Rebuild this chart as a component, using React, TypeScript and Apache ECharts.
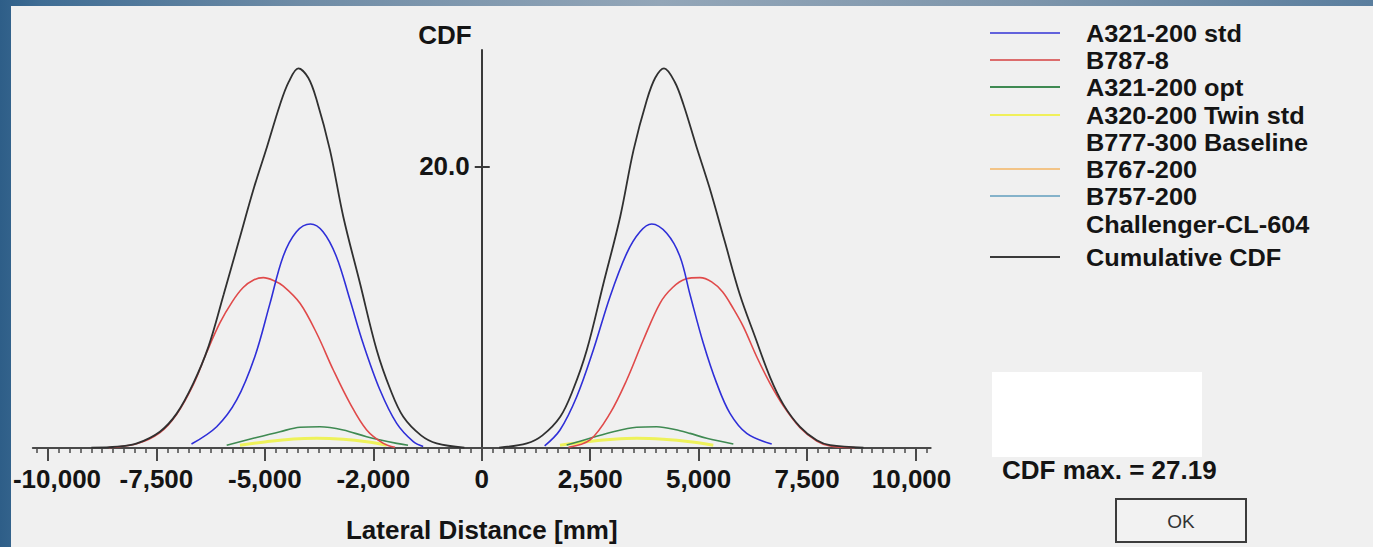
import React, { useEffect, useRef } from "react";
import * as echarts from "echarts";

// ---------- data (lateral distance in mm, CDF value) ----------
type P = [number, number];

const xTickValues = [-10000, -7500, -5000, -2500, 0, 2500, 5000, 7500, 10000];
const xTickLabels = ["-10,000", "-7,500", "-5,000", "-2,000", "0", "2,500", "5,000", "7,500", "10,000"];
const yTickValues = [20];
const yTickLabels = ["20.0"];
const xAxisTitle = "Lateral Distance [mm]";
const yAxisTitle = "CDF";
const cdfMax = 27.19;
const buttonLabel = "OK";

const legendNames = [
  "A321-200 std",
  "B787-8",
  "A321-200 opt",
  "A320-200 Twin std",
  "B777-300 Baseline",
  "B767-200",
  "B757-200",
  "Challenger-CL-604",
  "Cumulative CDF",
];
const legendColors: (string | null)[] = [
  "#6262dc", "#dc6c6c", "#3f8a52", "#f0f05a", null, "#f3c487", "#84b2ca", null, "#3a3a3a",
];

const a321StdLeft: P[] = [
  [-6692, 0.28], [-6111, 1.51], [-5650, 3.41], [-5230, 6.5], [-4888, 10.2], [-4581, 13.59],
  [-4272, 15.36], [-3950, 15.91], [-3659, 15.36], [-3350, 13.59], [-3037, 10.51], [-2736, 7.44],
  [-2346, 4.12], [-1961, 1.75], [-1578, 0.45], [-1350, 0.1],
];
const a321StdRight: P[] = [
  [1450, 0.15], [1804, 1.28], [2189, 3.64], [2572, 6.96], [2957, 10.75], [3342, 13.83],
  [3648, 15.36], [3918, 15.91], [4264, 15.25], [4571, 13.59], [4801, 10.9], [5108, 7.44],
  [5417, 4.59], [5723, 2.46], [6108, 1.04], [6685, 0.28],
];
const b787Left: P[] = [
  [-8600, 0.03], [-7955, 0.3], [-7418, 1.1], [-7033, 2.4], [-6650, 4.5], [-6341, 6.8],
  [-6034, 8.9], [-5750, 10.4], [-5500, 11.4], [-5250, 11.95], [-5036, 12.1], [-4800, 11.9],
  [-4575, 11.5], [-4190, 10.28], [-3806, 8.15], [-3422, 5.54], [-3037, 3.17], [-2653, 1.28],
  [-2269, 0.33], [-2000, 0.05],
];
const b787Right: P[] = [
  [2000, 0.05], [2496, 0.57], [2957, 2.46], [3342, 4.83], [3725, 7.67], [4109, 10.28],
  [4400, 11.4], [4700, 12.0], [5032, 12.1], [5300, 11.8], [5550, 11.1], [5800, 9.9],
  [6030, 8.62], [6339, 6.48], [6645, 4.59], [6952, 3.0], [7337, 1.45], [7722, 0.5],
  [8029, 0.15], [8600, 0.03],
];
const a321OptLeft: P[] = [
  [-5880, 0.2], [-5267, 0.69], [-4651, 1.16], [-4190, 1.47], [-3729, 1.51], [-3192, 1.28],
  [-2653, 0.8], [-1961, 0.33], [-1700, 0.2],
];
const a321OptRight: P[] = [
  [1958, 0.21], [2496, 0.69], [3033, 1.16], [3572, 1.47], [4033, 1.51], [4571, 1.23],
  [4801, 1.04], [5186, 0.69], [5800, 0.28],
];
const a320TwinLeft: P[] = [
  [-5574, 0.2], [-4963, 0.45], [-4344, 0.64], [-3806, 0.69], [-3192, 0.62], [-2653, 0.45], [-2191, 0.2],
];
const a320TwinRight: P[] = [
  [1804, 0.2], [2419, 0.45], [3033, 0.62], [3572, 0.69], [4186, 0.62], [4801, 0.45], [5338, 0.2],
];
const cumulativeLeft: P[] = [
  [-9000, 0.03], [-8400, 0.1], [-7950, 0.33], [-7420, 1.16], [-7030, 2.46], [-6650, 4.59],
  [-6300, 7.2], [-5950, 10.9], [-5600, 14.7], [-5250, 18.5], [-4950, 21.4], [-4650, 24.4],
  [-4450, 26.0], [-4229, 26.97], [-4000, 26.3], [-3806, 24.72], [-3499, 21.16], [-3192, 16.43],
  [-2807, 11.7], [-2422, 6.96], [-2100, 4.1], [-1809, 2.22], [-1400, 0.9], [-1039, 0.33], [-400, 0.03],
];
const cumulativeRight: P[] = [
  [400, 0.03], [1039, 0.33], [1400, 0.9], [1809, 2.22], [2100, 4.1], [2422, 6.96], [2807, 11.7],
  [3192, 16.43], [3499, 21.16], [3806, 24.72], [4000, 26.3], [4202, 26.97], [4450, 26.0],
  [4650, 24.4], [4950, 21.4], [5250, 18.5], [5600, 14.7], [5950, 10.9], [6300, 7.9], [6650, 5.0],
  [6952, 3.1], [7337, 1.5], [7722, 0.55], [8030, 0.2], [8800, 0.03],
];

// ---------- layout ----------
const OX = 11; // chart div offset inside the page
const OY = 6;
const FONT = '"Liberation Sans", Arial, sans-serif';
const TEXT = "#141414";
const legendRowY = [34, 61, 88, 116, 143, 170, 197, 225, 258];
const GRID_LEFT = 32.8; // page px of x = -10350
const ZERO_X = 481.75; // page px of x = 0

export default function App() {
  const ref = useRef<HTMLDivElement>(null);

  useEffect(() => {
    if (!ref.current) return;
    const chart = echarts.init(ref.current, undefined, { renderer: "svg" });

    const minorTicks: number[] = [];
    for (let v = -10250; v <= 10250; v += 250) minorTicks.push(v);

    const line = (name: string, data: P[], color: string, width: number) => ({
      type: "line",
      name,
      data,
      xAxisIndex: 0,
      yAxisIndex: 0,
      showSymbol: false,
      smooth: 0.35,
      lineStyle: { color, width },
      itemStyle: { color },
      z: 3,
    });

    const legendGraphics: any[] = [];
    legendNames.forEach((n, i) => {
      const y = legendRowY[i] - OY;
      const c = legendColors[i];
      if (c) {
        legendGraphics.push({
          type: "line",
          shape: { x1: 990 - OX, y1: y - 1, x2: 1060 - OX, y2: y - 1 },
          style: { stroke: c, lineWidth: 2 },
        });
      }
      legendGraphics.push({
        type: "text",
        x: 1086 - OX,
        y,
        scaleX: 1.1,
        style: {
          text: n,
          font: `bold 23px ${FONT}`,
          lineHeight: 22,
          fill: TEXT,
          verticalAlign: "middle",
        },
      });
    });

    const yOffset = -(ZERO_X - GRID_LEFT);
    const labelText = { fontFamily: FONT, fontWeight: "bold", fontSize: 26, color: TEXT };

    const option: any = {
      animation: false,
      backgroundColor: "#f0f0f0",
      grid: {
        left: GRID_LEFT - OX,
        top: 50 - OY,
        width: 897.9,
        height: 398,
        containLabel: false,
        outerBoundsMode: "none",
      },
      xAxis: [
        {
          type: "value",
          min: -10350,
          max: 10350,
          position: "bottom",
          name: xAxisTitle,
          nameLocation: "middle",
          nameGap: 69,
          nameTextStyle: { ...labelText },
          axisLine: { onZero: true, lineStyle: { color: "#4a4a4a", width: 2 } },
          axisTick: { show: true, customValues: xTickValues, length: 13, lineStyle: { color: "#4a4a4a", width: 2 } },
          axisLabel: {
            customValues: xTickValues,
            margin: 18,
            ...labelText,
            rich: {
              first: { ...labelText, padding: [0, 0, 0, 18] },
              last: { ...labelText, padding: [0, 8, 0, 0] },
            },
            formatter: (v: number) => {
              const i = xTickValues.indexOf(v);
              if (i < 0) return "";
              if (i === 0) return `{first|${xTickLabels[i]}}`;
              if (i === xTickValues.length - 1) return `{last|${xTickLabels[i]}}`;
              return xTickLabels[i];
            },
          },
          splitLine: { show: false },
        },
        {
          type: "value",
          min: -10350,
          max: 10350,
          position: "bottom",
          axisLine: { show: false },
          axisTick: { show: true, customValues: minorTicks, length: 5, lineStyle: { color: "#4a4a4a", width: 1.5 } },
          axisLabel: { show: false },
          splitLine: { show: false },
        },
      ],
      yAxis: [
        {
          type: "value",
          min: 0,
          max: 28.27,
          position: "left",
          offset: yOffset,
          name: yAxisTitle,
          nameLocation: "end",
          nameGap: 2,
          nameTextStyle: {
            ...labelText,
            align: "right",
            verticalAlign: "bottom",
            padding: [0, 10, 0, 0],
          },
          axisLine: { show: true, onZero: false, lineStyle: { color: "#3a3a3a", width: 2 } },
          axisTick: { show: true, customValues: yTickValues, length: 7, lineStyle: { color: "#3a3a3a", width: 2 } },
          axisLabel: {
            customValues: yTickValues,
            margin: 12,
            ...labelText,
            formatter: (v: number) => {
              const i = yTickValues.indexOf(v);
              return i >= 0 ? yTickLabels[i] : "";
            },
          },
          splitLine: { show: false },
        },
        {
          type: "value",
          min: 0,
          max: 28.27,
          position: "left",
          offset: yOffset,
          axisLine: { show: false, onZero: false },
          axisTick: { show: true, inside: true, customValues: yTickValues, length: 8, lineStyle: { color: "#3a3a3a", width: 2 } },
          axisLabel: { show: false },
          splitLine: { show: false },
        },
      ],
      series: [
        line(legendNames[3], a320TwinLeft, "#eef25a", 3),
        line(legendNames[3], a320TwinRight, "#eef25a", 3),
        line(legendNames[2], a321OptLeft, "#3f8a52", 1.6),
        line(legendNames[2], a321OptRight, "#3f8a52", 1.6),
        line(legendNames[1], b787Left, "#e04a4a", 1.6),
        line(legendNames[1], b787Right, "#e04a4a", 1.6),
        line(legendNames[0], a321StdLeft, "#2f2fd8", 1.6),
        line(legendNames[0], a321StdRight, "#2f2fd8", 1.6),
        line(legendNames[8], cumulativeLeft, "#303030", 1.8),
        line(legendNames[8], cumulativeRight, "#303030", 1.8),
      ],
      graphic: [
        ...legendGraphics,
        {
          type: "rect",
          shape: { x: 992 - OX, y: 372 - OY, width: 210, height: 85 },
          style: { fill: "#ffffff" },
        },
        {
          type: "text",
          x: 1002 - OX,
          y: 470 - OY,
          style: {
            text: `CDF max. = ${cdfMax.toFixed(2)}`,
            font: `bold 26px ${FONT}`,
            lineHeight: 24,
            fill: TEXT,
            verticalAlign: "middle",
          },
        },
        {
          type: "rect",
          shape: { x: 1116 - OX, y: 499 - OY, width: 130, height: 43 },
          style: { fill: "#f2f2f2", stroke: "#3c3c3c", lineWidth: 2 },
        },
        {
          type: "text",
          x: 1181 - OX,
          y: 521 - OY,
          style: {
            text: buttonLabel,
            font: `19px ${FONT}`,
            fill: "#333333",
            align: "center",
            verticalAlign: "middle",
          },
        },
      ],
    };

    chart.setOption(option);
    return () => chart.dispose();
  }, []);

  return (
    <div
      style={{
        position: "fixed",
        left: 0,
        top: 0,
        width: 1373,
        height: 547,
        background:
          "linear-gradient(90deg, #2e5e88 0%, #3f6d94 3%, #6f8ca6 22%, #93a6b8 48%, #7d95ab 75%, #5a7e9e 100%)",
        overflow: "hidden",
      }}
    >
      <div ref={ref} style={{ position: "absolute", left: OX, top: OY, width: 1362, height: 541 }} />
    </div>
  );
}
